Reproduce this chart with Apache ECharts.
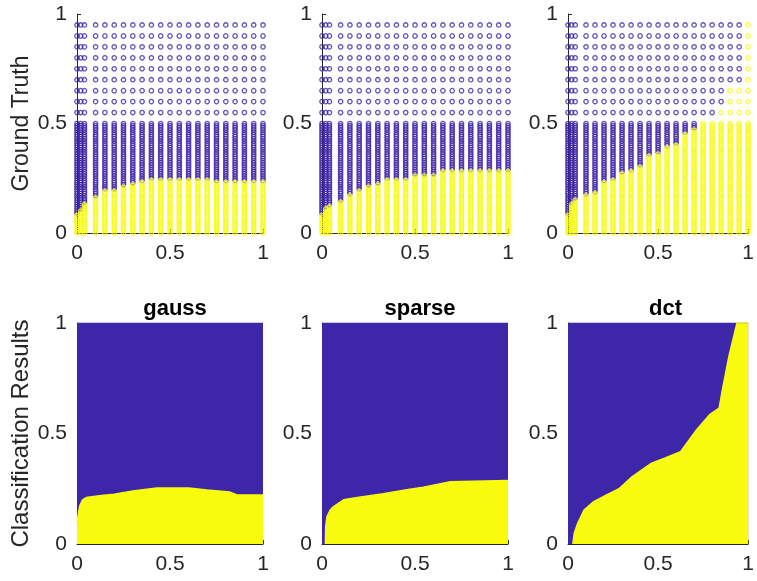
<!DOCTYPE html>
<html>
<head>
<meta charset="utf-8">
<script src="https://cdn.jsdelivr.net/npm/echarts@6/dist/echarts.min.js"></script>
<style>
html,body{margin:0;padding:0;background:#fff;}
#chart{width:757px;height:581px;}
</style>
</head>
<body>
<div id="chart"></div>
<script>
// ---------- data ----------
const methods = ['gauss', 'sparse', 'dct'];
const tickValues = [0, 0.5, 1];
const tickLabels = ['0', '0.5', '1'];

// sample grid of the ground-truth plots
const xCols = [0, 0.02, 0.04, 0.1, 0.15, 0.2, 0.25, 0.3, 0.35, 0.4, 0.45, 0.5, 0.55, 0.6, 0.65, 0.7, 0.75, 0.8, 0.85, 0.9, 0.95, 1];
const yRowsLow = [0, 0.01, 0.02, 0.03, 0.04, 0.05, 0.06, 0.07, 0.08, 0.09,
  0.1, 0.11, 0.12, 0.13, 0.14, 0.15, 0.16, 0.17, 0.18, 0.19,
  0.2, 0.21, 0.22, 0.23, 0.24, 0.25, 0.26, 0.27, 0.28, 0.29,
  0.3, 0.31, 0.32, 0.33, 0.34, 0.35, 0.36, 0.37, 0.38, 0.39,
  0.4, 0.41, 0.42, 0.43, 0.44, 0.45, 0.46, 0.47, 0.48, 0.49, 0.5];
const yRowsHigh = [0.55, 0.6, 0.65, 0.7, 0.75, 0.8, 0.85, 0.9, 0.95];

// ground truth: highest y of the yellow class in each column of xCols
const gaussTruthTop  = [0.08, 0.10, 0.13, 0.165, 0.19, 0.19, 0.21, 0.22, 0.23, 0.245, 0.245, 0.245, 0.245, 0.245, 0.245, 0.245, 0.23, 0.23, 0.23, 0.23, 0.23, 0.23];
const sparseTruthTop = [0.087, 0.11, 0.124, 0.147, 0.17, 0.19, 0.213, 0.227, 0.24, 0.247, 0.247, 0.267, 0.267, 0.267, 0.286, 0.286, 0.286, 0.286, 0.286, 0.286, 0.286, 0.286];
const dctTruthTop    = [0.087, 0.13, 0.15, 0.17, 0.185, 0.23, 0.246, 0.27, 0.284, 0.307, 0.35, 0.368, 0.39, 0.407, 0.453, 0.476, 0.5, 0.5, 0.55, 0.65, 0.65, 1.0];

// classification results: edge of the yellow region
const gaussEdgeX  = [0, 0.01, 0.015, 0.03, 0.05, 0.12, 0.2, 0.3, 0.43, 0.6, 0.7, 0.82, 0.86, 1.0];
const gaussEdgeY  = [0.1, 0.15, 0.173, 0.2, 0.21, 0.218, 0.225, 0.24, 0.253, 0.253, 0.244, 0.235, 0.222, 0.222];
const sparseEdgeX = [0.018, 0.02, 0.027, 0.044, 0.062, 0.116, 0.19, 0.33, 0.455, 0.545, 0.69, 1.0];
const sparseEdgeY = [0, 0.08, 0.124, 0.154, 0.169, 0.2, 0.21, 0.227, 0.245, 0.257, 0.282, 0.287];
const dctEdgeX    = [0.027, 0.035, 0.054, 0.089, 0.143, 0.214, 0.286, 0.357, 0.464, 0.536, 0.625, 0.714, 0.786, 0.839, 0.857, 0.893, 0.938, 1.0];
const dctEdgeY    = [0, 0.05, 0.094, 0.154, 0.192, 0.222, 0.252, 0.305, 0.366, 0.388, 0.418, 0.517, 0.585, 0.615, 0.698, 0.849, 1.0, 1.0];
const blueRegionX = [0, 1];
const blueRegionY = [1, 1];

// ---------- build ----------
const BLUE = 'rgb(62,38,168)';
const YELLOW = 'rgb(249,251,14)';
const FONT = 'Liberation Sans, Helvetica, Arial, sans-serif';
const truthTops = [gaussTruthTop, sparseTruthTop, dctTruthTop];
const edgesX = [gaussEdgeX, sparseEdgeX, dctEdgeX];
const edgesY = [gaussEdgeY, sparseEdgeY, dctEdgeY];
const yRows = yRowsLow.concat(yRowsHigh);

const lefts = [77, 322, 568];
const widths = [186, 186, 185];
const grids = [];
for (let r = 0; r < 2; r++) {
  for (let c = 0; c < 3; c++) {
    grids.push(r === 0
      ? {left: lefts[c], width: widths[c], top: 14, height: 219}
      : {left: lefts[c], width: widths[c], top: 323, height: 221});
  }
}

const fmt = v => {
  const i = tickValues.findIndex(t => Math.abs(t - v) < 1e-9);
  return i >= 0 ? tickLabels[i] : '';
};
const axisCommon = {
  type: 'value', min: 0, max: 1, interval: 0.5,
  axisLine: {show: true, lineStyle: {color: '#262626', width: 1}},
  axisTick: {show: true, inside: true, length: 4, lineStyle: {color: '#262626'}},
  splitLine: {show: false},
};
const xAxes = [], yAxes = [];
for (let g = 0; g < 6; g++) {
  xAxes.push(Object.assign({}, axisCommon, {
    gridIndex: g,
    axisLabel: {fontSize: 21, color: '#262626', fontFamily: FONT, margin: 10, formatter: fmt}
  }));
  const y = Object.assign({}, axisCommon, {
    gridIndex: g,
    axisLabel: {fontSize: 21, color: '#262626', fontFamily: FONT, margin: 10, formatter: fmt}
  });
  if (g === 0 || g === 3) {
    y.name = g === 0 ? 'Ground Truth' : 'Classification Results';
    y.nameLocation = 'middle';
    y.nameGap = 44;
    y.nameTextStyle = {fontSize: g === 0 ? 23 : 24, color: '#262626', fontFamily: FONT};
  }
  yAxes.push(y);
}

const series = [];
// top row: ground truth samples
for (let c = 0; c < 3; c++) {
  const blue = [], yellow = [];
  xCols.forEach((x, i) => {
    const t = truthTops[c][i];
    yRows.forEach(y => {
      (y <= t + 1e-9 ? yellow : blue).push([x, y]);
    });
  });
  const mk = (name, data, col) => ({
    name, type: 'scatter', xAxisIndex: c, yAxisIndex: c, data,
    symbol: 'circle', symbolSize: 4.4,
    itemStyle: {color: 'rgba(0,0,0,0)', borderColor: col, borderWidth: 1.3},
    silent: true, animation: false
  });
  series.push(mk('class 1', blue, BLUE));
  series.push(mk('class 2', yellow, YELLOW));
}
// bottom row: classification regions
for (let c = 0; c < 3; c++) {
  const g = 3 + c;
  series.push({
    name: 'class 1', type: 'line', xAxisIndex: g, yAxisIndex: g,
    data: blueRegionX.map((x, i) => [x, blueRegionY[i]]),
    showSymbol: false, lineStyle: {color: BLUE, width: 1},
    areaStyle: {color: BLUE, opacity: 1, origin: 'start'},
    silent: true, animation: false
  });
  series.push({
    name: 'class 2', type: 'line', xAxisIndex: g, yAxisIndex: g,
    data: edgesX[c].map((x, i) => [x, edgesY[c][i]]),
    showSymbol: false, lineStyle: {color: YELLOW, width: 1.5},
    areaStyle: {color: YELLOW, opacity: 1, origin: 'start'},
    silent: true, animation: false
  });
}

const titles = methods.map((m, c) => ({
  text: m, left: lefts[c] + widths[c] / 2, top: 293, textAlign: 'center',
  textStyle: {fontSize: 22, fontWeight: 'bold', color: '#000', fontFamily: FONT}
}));

const chart = echarts.init(document.getElementById('chart'), null, {renderer: 'canvas'});
chart.setOption({
  backgroundColor: '#fff',
  animation: false,
  title: titles,
  grid: grids,
  xAxis: xAxes,
  yAxis: yAxes,
  series
});
</script>
</body>
</html>
